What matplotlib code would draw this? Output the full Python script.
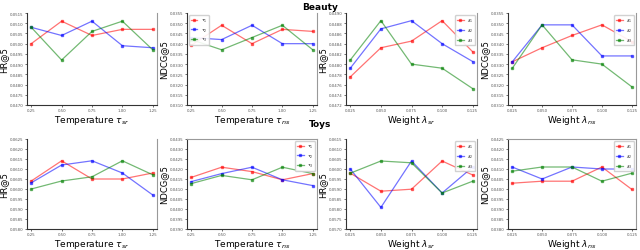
import numpy as np
import matplotlib.pyplot as plt

# x axes
temps = [0.25, 0.50, 0.75, 1.00, 1.25]
weights = [0.025, 0.050, 0.075, 0.100, 0.125]
temp_labels = ['0.25', '0.50', '0.75', '1.00', '1.25']
weight_labels = ['0.025', '0.050', '0.075', '0.100', '0.125']

# Beauty
beauty_hr_t1 = [0.0500, 0.0511, 0.0504, 0.0507, 0.0507]
beauty_hr_t2 = [0.0508, 0.0504, 0.0511, 0.0499, 0.0498]
beauty_hr_t3 = [0.0508, 0.0492, 0.0506, 0.0511, 0.0497]
beauty_ndcg_t1 = [0.03392, 0.0349, 0.0340, 0.0347, 0.0346]
beauty_ndcg_t2 = [0.0343, 0.0342, 0.0349, 0.0340, 0.0340]
beauty_ndcg_t3 = [0.0342, 0.0337, 0.0343, 0.0349, 0.0337]
beauty_hr_l1 = [0.04775, 0.04832, 0.04845, 0.04885, 0.04824]
beauty_hr_l2 = [0.04792, 0.04869, 0.04885, 0.04840, 0.04805]
beauty_hr_l3 = [0.04808, 0.04885, 0.04800, 0.04792, 0.04752]
beauty_ndcg_l1 = [0.03311, 0.03380, 0.03440, 0.03492, 0.03410]
beauty_ndcg_l2 = [0.03311, 0.03492, 0.03492, 0.03340, 0.03340]
beauty_ndcg_l3 = [0.03279, 0.03492, 0.03321, 0.03300, 0.03189]

# Toys
toys_hr_t1 = [0.0604, 0.06141, 0.0605, 0.0605, 0.0608]
toys_hr_t2 = [0.06031, 0.0612, 0.06141, 0.0608, 0.0597]
toys_hr_t3 = [0.0600, 0.0604, 0.06061, 0.06141, 0.06071]
toys_ndcg_t1 = [0.04158, 0.04209, 0.04187, 0.04146, 0.04177]
toys_ndcg_t2 = [0.04137, 0.04177, 0.04209, 0.04146, 0.04117]
toys_ndcg_t3 = [0.04127, 0.04168, 0.04146, 0.04209, 0.04177]
toys_hr_l1 = [0.05979, 0.05889, 0.05899, 0.0604, 0.0597]
toys_hr_l2 = [0.0600, 0.05808, 0.0604, 0.0588, 0.0601]
toys_hr_l3 = [0.05979, 0.0604, 0.06031, 0.0588, 0.05939]
toys_ndcg_l1 = [0.04029, 0.04039, 0.04039, 0.0411, 0.03998]
toys_ndcg_l2 = [0.0411, 0.0405, 0.0411, 0.0410, 0.0410]
toys_ndcg_l3 = [0.04089, 0.0411, 0.0411, 0.04039, 0.04079]

tau_names = [r'$\tau_1$', r'$\tau_2$', r'$\tau_3$']
lam_names = [r'$\lambda_1$', r'$\lambda_2$', r'$\lambda_3$']
colors = ['red', 'blue', 'green']

panels = [
    # x, xticklabels, series, ylabel, xlabel, ymin, ystep, legend loc
    (temps, temp_labels, [beauty_hr_t1, beauty_hr_t2, beauty_hr_t3], 'HR@5', r'Temperature $\tau_{sr}$', 0.0470, 0.0005, None),
    (temps, temp_labels, [beauty_ndcg_t1, beauty_ndcg_t2, beauty_ndcg_t3], 'NDCG@5', r'Temperature $\tau_{ns}$', 0.0310, 0.0005, 'upper left'),
    (weights, weight_labels, [beauty_hr_l1, beauty_hr_l2, beauty_hr_l3], 'HR@5', r'Weight $\lambda_{sr}$', 0.0472, 0.0002, 'upper right'),
    (weights, weight_labels, [beauty_ndcg_l1, beauty_ndcg_l2, beauty_ndcg_l3], 'NDCG@5', r'Weight $\lambda_{ns}$', 0.0310, 0.0005, 'upper right'),
    (temps, temp_labels, [toys_hr_t1, toys_hr_t2, toys_hr_t3], 'HR@5', r'Temperature $\tau_{sr}$', 0.0580, 0.0005, None),
    (temps, temp_labels, [toys_ndcg_t1, toys_ndcg_t2, toys_ndcg_t3], 'NDCG@5', r'Temperature $\tau_{ns}$', 0.0390, 0.0005, 'upper right'),
    (weights, weight_labels, [toys_hr_l1, toys_hr_l2, toys_hr_l3], 'HR@5', r'Weight $\lambda_{sr}$', 0.0570, 0.0005, 'upper right'),
    (weights, weight_labels, [toys_ndcg_l1, toys_ndcg_l2, toys_ndcg_l3], 'NDCG@5', r'Weight $\lambda_{ns}$', 0.0380, 0.0005, 'upper right'),
]

fig = plt.figure(figsize=(6.4, 2.51), dpi=100)
lefts = [27, 187, 346, 508]
widths = [130, 130, 131, 128]
rows = [(14, 106), (140, 230)]

for i, (x, xtl, series, ylab, xlab, ymin, ystep, loc) in enumerate(panels):
    r, c = divmod(i, 4)
    top, bot = rows[r]
    ax = fig.add_axes([lefts[c] / 640, 1 - bot / 251, widths[c] / 640, (bot - top) / 251])
    names = tau_names if x is temps else lam_names
    for s, col, name in zip(series, colors, names):
        ax.plot(x, s, color=col, alpha=0.55, lw=0.9, marker='s', ms=2,
                mfc=col, mec=col, label=name)
    yt = ymin + ystep * np.arange(10)
    ax.set_yticks(yt)
    ax.set_ylim(yt[0], yt[-1])
    ax.set_yticklabels(['%.4f' % v for v in yt], fontsize=2.8, color='#555555')
    ax.set_xticks(x)
    ax.set_xticklabels(xtl, fontsize=2.8, color='#555555')
    pad = (x[-1] - x[0]) * 0.035
    ax.set_xlim(x[0] - pad, x[-1] + pad)
    ax.tick_params(length=1.5, width=0.4, pad=1)
    ax.set_xlabel(xlab, fontsize=6.5, labelpad=0.5)
    ax.set_ylabel(ylab, fontsize=6, labelpad=1)
    ax.spines['left'].set_color('#333333')
    ax.spines['bottom'].set_color('#333333')
    ax.spines['right'].set_color('#999999')
    ax.spines['top'].set_color('#999999')
    ax.spines['top'].set_visible(r == 1 and c in (1, 3))
    for sp in ax.spines.values():
        sp.set_linewidth(0.8)
    if loc:
        ax.legend(loc=loc, fontsize=3, handlelength=1.6, markerscale=0.7,
                  borderpad=0.4, labelspacing=0.5, framealpha=0.9)

fig.text(0.5, 0.99, 'Beauty', ha='center', va='top', fontsize=6.5, fontweight='bold')
fig.text(0.5, 0.52, 'Toys', ha='center', va='top', fontsize=6.5, fontweight='bold')

plt.savefig('out.png', dpi=100)
